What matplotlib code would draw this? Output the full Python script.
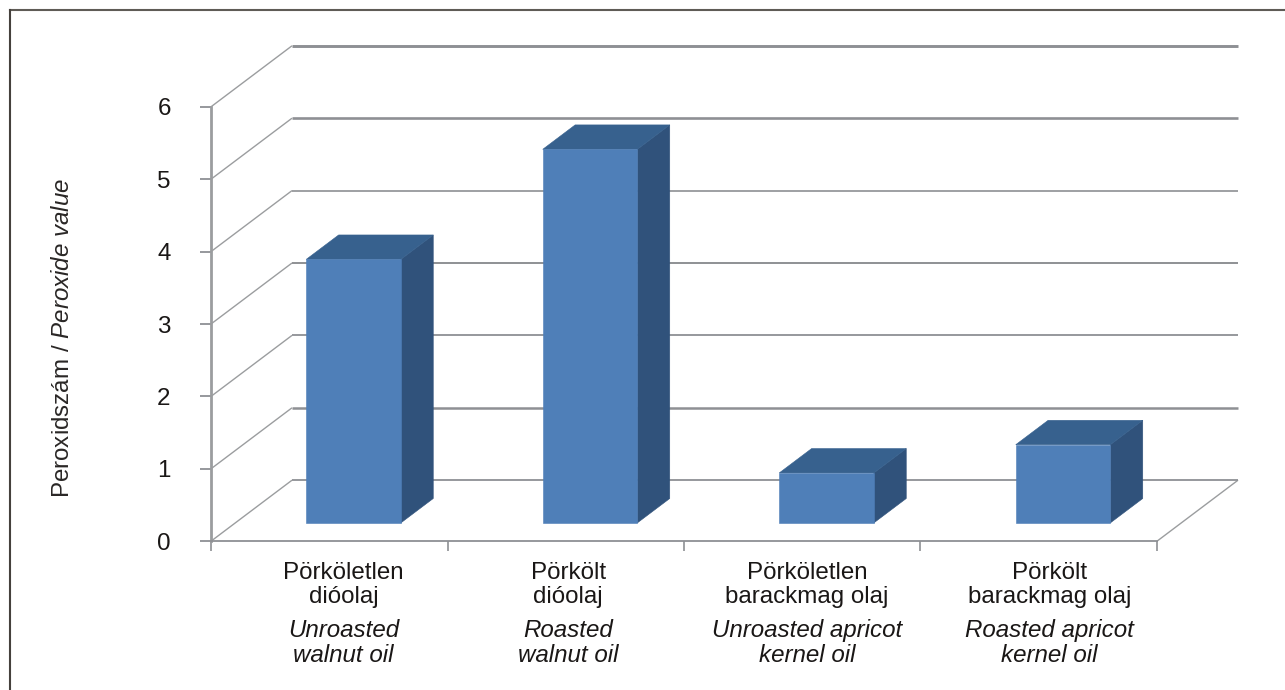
import matplotlib
matplotlib.use("Agg")
import matplotlib.pyplot as plt
from matplotlib.lines import Line2D
from matplotlib.patches import Polygon
from matplotlib.transforms import blended_transform_factory

plt.rcParams["font.family"] = ["Liberation Sans", "DejaVu Sans"]
plt.rcParams["mathtext.fontset"] = "custom"
plt.rcParams["mathtext.rm"] = "Liberation Sans"
plt.rcParams["mathtext.it"] = "Liberation Sans:italic"

# Peroxide value per oil
hungarian_labels = ["Pörköletlen\ndióolaj", "Pörkölt\ndióolaj",
                    "Pörköletlen\nbarackmag olaj", "Pörkölt\nbarackmag olaj"]
english_labels = ["Unroasted\nwalnut oil", "Roasted\nwalnut oil",
                  "Unroasted apricot\nkernel oil", "Roasted apricot\nkernel oil"]
label_centres = [0.56, 1.51, 2.52, 3.545]
peroxide_values = [3.64, 5.16, 0.69, 1.08]
value_ticks = [0, 1, 2, 3, 4, 5, 6]
grid_widths = [1.3, 1.8, 1.3, 1.4, 1.2, 1.9, 2.1]

W, H = 1285, 690
DPI = 100
CAT_PX = 236.5   # width of one category along the floor
UNIT_PX = 72.4   # height of one value unit
DEPTH_DX = 81 / CAT_PX   # floor depth, in category units
DEPTH_DY = 61 / UNIT_PX  # floor depth, in value units
X0, Y0 = 211, 541.2      # pixel position of the chart origin
XR, YT = 1238.5, 45.8    # far right and top of the back wall
BAR_W = 0.4
BAR_Z0, BAR_Z1 = 0.30, 0.70

GRID = "#8e9094"
DIAG = "#9b9d9f"
TEXT = "#1a1716"
FONT = 17.4
FRONT, TOP, SIDE = "#4f7fb8", "#37618e", "#30527b"


def project(x, y, z):
    """Oblique projection of a (category, value, depth) point."""
    return x + z * DEPTH_DX, y + z * DEPTH_DY


fig = plt.figure(figsize=(W / DPI, H / DPI), dpi=DPI, facecolor="white")

# Page rule along the top and left edges
fig.add_artist(Line2D([10 / W, 1], [1 - 10 / H, 1 - 10 / H], transform=fig.transFigure,
                      color="#5f5b56", lw=1.5, solid_capstyle="projecting"))
fig.add_artist(Line2D([10 / W, 10 / W], [1 - 10 / H, 0], transform=fig.transFigure,
                      color="#45413d", lw=1.5, solid_capstyle="projecting"))

ax = fig.add_axes([X0 / W, 1 - Y0 / H, (XR - X0) / W, (Y0 - YT) / H])
ax.set_xlim(0, (XR - X0) / CAT_PX)
ax.set_ylim(0, (Y0 - YT) / UNIT_PX)
ax.patch.set_alpha(0)

n_cat = len(peroxide_values)

# Diagonals across the side wall and along the floor's right edge
for v in value_ticks:
    ax.plot(*zip(project(0, v, 0), project(0, v, 1)), color=DIAG, lw=1.0,
            clip_on=False, zorder=1, solid_capstyle="butt")
ax.plot(*zip(project(n_cat, 0, 1), project(n_cat, 0, 0)), color=DIAG, lw=1.0,
        clip_on=False, zorder=1, solid_capstyle="butt")

# Back wall gridlines
for v, lw in zip(value_ticks, grid_widths):
    ax.plot(*zip(project(0, v, 1), project(n_cat, v, 1)), color=GRID, lw=lw,
            clip_on=False, zorder=1.5, solid_capstyle="butt")

# Bars as three visible faces of a box
for i, v in enumerate(peroxide_values):
    x0 = i + (1 - BAR_W) / 2
    x1 = x0 + BAR_W
    front = [project(x0, 0, BAR_Z0), project(x1, 0, BAR_Z0),
             project(x1, v, BAR_Z0), project(x0, v, BAR_Z0)]
    top = [project(x0, v, BAR_Z0), project(x1, v, BAR_Z0),
           project(x1, v, BAR_Z1), project(x0, v, BAR_Z1)]
    side = [project(x1, 0, BAR_Z0), project(x1, 0, BAR_Z1),
            project(x1, v, BAR_Z1), project(x1, v, BAR_Z0)]
    for pts, col in ((side, SIDE), (top, TOP), (front, FRONT)):
        ax.add_patch(Polygon(pts, closed=True, facecolor=col, edgecolor=col,
                             linewidth=0.4, zorder=3, clip_on=False))

for name in ("top", "right"):
    ax.spines[name].set_visible(False)
ax.spines["left"].set_bounds(0, 6)
ax.spines["bottom"].set_bounds(0, n_cat)
ax.spines["left"].set_color(DIAG)
ax.spines["left"].set_linewidth(2.0)
ax.spines["bottom"].set_color(GRID)
ax.spines["bottom"].set_linewidth(1.3)

ax.set_yticks(value_ticks)
ax.set_yticklabels([str(v) for v in value_ticks], fontsize=FONT, color=TEXT)
ax.tick_params(axis="y", length=8, width=1.3, color=GRID, pad=21)
ax.set_xticks(range(n_cat + 1))
ax.set_xticklabels([])
ax.tick_params(axis="x", length=7, width=1.2, color=GRID)

# Two-language category labels below the axis
to_px = blended_transform_factory(ax.transData, fig.transFigure)
for cx, hu, en in zip(label_centres, hungarian_labels, english_labels):
    ax.text(cx, 1 - 585 / H, hu, transform=to_px, ha="center", va="center",
            fontsize=FONT, color=TEXT, linespacing=1.12)
    ax.text(cx, 1 - 643 / H, en, transform=to_px, ha="center", va="center",
            fontsize=FONT, style="italic", color=TEXT, linespacing=1.12)

fig.text(63 / W, 1 - 338 / H, r"Peroxidszám / $\mathit{Peroxide\ value}$",
         rotation=90, ha="center", va="center", fontsize=FONT, color="#2a2726")

fig.savefig("out.png", dpi=DPI)
